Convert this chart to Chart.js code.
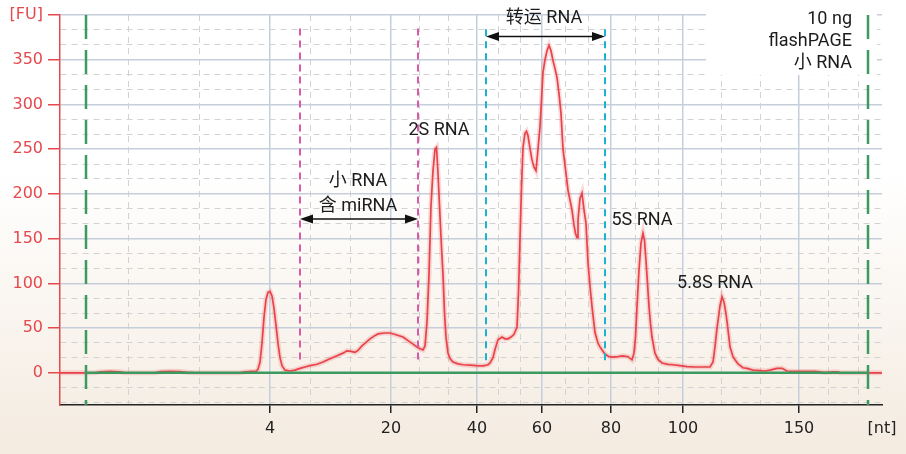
<!DOCTYPE html>
<html>
<head>
<meta charset="utf-8">
<script src="https://cdn.jsdelivr.net/npm/chart.js@4.4.0/dist/chart.umd.min.js"></script>
<style>
  html, body { margin: 0; padding: 0; }
  body {
    width: 906px;
    height: 454px;
    background: linear-gradient(to bottom, #ffffff 0%, #ffffff 38%, #f4ebe0 100%);
  }
  #wrap { position: relative; width: 906px; height: 454px; }
</style>
</head>
<body>
<div id="wrap"><canvas id="electropherogram"></canvas></div>
<script>
// migration time [s] and fluorescence [FU] of the sample trace
const migrationTime = [
  19.00, 19.50, 20.75, 21.00, 21.50, 22.00, 22.25, 23.75, 24.00, 24.50, 25.00, 25.35, 25.75, 28.00, 28.25, 28.60,
  28.80, 28.90, 29.00, 29.10, 29.20, 29.30, 29.40, 29.50, 29.60, 29.70, 29.80, 29.90, 30.00, 30.10, 30.25, 30.50,
  30.75, 31.00, 31.25, 31.50, 31.85, 32.15, 32.50, 32.85, 33.15, 33.35, 33.55, 33.75, 33.90, 34.10, 34.30, 34.50,
  34.70, 34.90, 35.20, 35.50, 35.80, 36.15, 36.40, 36.65, 36.90, 37.15,
  37.25, 37.35, 37.45, 37.55, 37.65, 37.75, 37.825, 37.90, 38.00, 38.075, 38.15, 38.225, 38.30, 38.40, 38.50, 38.65,
  38.90, 39.15, 39.50, 39.80, 40.15,
  40.40, 40.50, 40.65, 40.75, 40.90, 41.10, 41.25, 41.40, 41.55, 41.70, 41.85, 41.925, 42.00, 42.075, 42.15,
  42.25, 42.325, 42.40, 42.50, 42.60, 42.70, 42.80, 42.90, 43.00, 43.075, 43.15, 43.25, 43.35, 43.45, 43.55,
  43.65, 43.75, 43.85, 43.95, 44.05, 44.15, 44.30, 44.40, 44.50, 44.60, 44.70, 44.775, 44.85, 44.90, 45.00,
  45.10, 45.20, 45.30, 45.40, 45.50, 45.60, 45.75, 45.90, 46.00, 46.15, 46.25,
  46.45, 46.65, 46.90, 47.15, 47.40, 47.60, 47.70, 47.775, 47.85, 47.95, 48.05, 48.15, 48.225, 48.30, 48.375,
  48.45, 48.525, 48.60, 48.75, 48.90, 49.10, 49.40, 49.65, 50.00, 50.35, 50.75, 51.15, 51.50,
  51.65, 51.75, 51.85, 51.925, 52.00, 52.10, 52.20, 52.30, 52.375, 52.50, 52.65, 52.75, 52.90, 53.15, 53.35,
  53.65, 54.00, 54.25, 54.50, 54.85, 55.10, 55.35, 55.75, 56.25, 56.75, 57.00, 57.25, 57.65, 57.90, 58.00, 60.10,
];
const fluorescence = [
  0, 0, 0, 1.2, 1.5, 1.2, 0, 0, 1.3, 1.6, 1.4, 0.5, 0, 0, 1.2, 1.5,
  1.5, 4, 12, 33, 62, 82, 90, 91, 86, 72, 53, 33, 17, 8, 3, 2,
  3, 5, 6.5, 8, 9.5, 12, 15.6, 19, 22, 24.5, 24, 23, 25, 30, 34, 38,
  41, 43.5, 44.5, 44.5, 42.5, 40, 36, 32, 28, 25.5,
  30, 57, 110, 187, 226, 250, 252, 223, 175, 140, 110, 67, 40, 22, 16, 12,
  10, 9, 8.5, 8, 7.8,
  9, 11, 17, 26, 37, 40, 38, 38, 40, 43, 51, 90, 150, 207, 252,
  268, 270, 265, 251, 238, 230, 226, 250, 275, 305, 336, 350, 360, 366, 360,
  349, 340, 330, 312, 290, 250, 223, 204, 193, 182, 165, 156, 151, 171, 195,
  201, 182, 167, 123, 97, 74, 45, 33, 29, 24, 21,
  18, 17.5, 18, 19, 18, 14.5, 22, 40, 74, 115, 145, 156, 148, 125, 100,
  74, 55, 40, 22, 15, 11, 9.5, 9, 8, 7, 6.5, 6.5, 6.5,
  12, 29, 50, 62, 75, 85, 79, 66, 53, 29, 18, 14.5, 10, 5.6, 5,
  3, 2.5, 2, 3, 5, 5, 2, 1.5, 1.5, 1.5, 1.2, 0.3, 1, 1, 0, 0,
];

// ladder sizes and the times they run at
const ladderNt = [4, 20, 40, 60, 80, 100, 150];
const ladderTime = [29.5, 35.55, 39.85, 43.1, 46.55, 50.15, 55.95];

// lower / upper marker and the two integration windows
const markerTime = [20.3, 59.4];
const smallRnaWindow = [31.0, 36.9];
const trnaWindow = [40.3, 46.25];

const peakLabels = [
  { text: '小 RNA', t: 33.9, fu: 214 },
  { text: '含 miRNA', t: 33.9, fu: 186 },
  { text: '2S RNA', t: 37.95, fu: 271 },
  { text: '转运 RNA', t: 43.2, fu: 396 },
  { text: '5S RNA', t: 48.1, fu: 170 },
  { text: '5.8S RNA', t: 51.75, fu: 100 },
];
const sampleInfo = ['10 ng', 'flashPAGE', '小 RNA'];

const X_MIN = 19, X_MAX = 60.1;
const Y_MIN = -36, Y_MAX = 400;

const MAJOR_GRID = '#c5cedb';
const MINOR_GRID = '#d2d2d2';
const AXIS_RED = '#e5484d';
const TEXT_FONT = '18px Roboto, "Noto Sans CJK SC", sans-serif';

// x grid: ladder lines plus two dashed lines per interval
function buildXTicks() {
  const edges = [18.85, ...ladderTime, 60.4];
  const ticks = [];
  for (let i = 0; i < edges.length - 1; i++) {
    const a = edges[i], b = edges[i + 1];
    if (i > 0) ticks.push({ value: a, kind: 'major', nt: ladderNt[i - 1] });
    ticks.push({ value: a + (b - a) / 3, kind: 'minor' });
    ticks.push({ value: a + 2 * (b - a) / 3, kind: 'minor' });
  }
  ticks.push({ value: X_MAX, kind: 'end' });
  return ticks.filter((t) => t.value >= X_MIN && t.value <= X_MAX);
}

function buildYTicks() {
  const ticks = [];
  for (let k = -2; k <= 24; k++) {
    ticks.push({ value: (k * 50) / 3, kind: k % 3 === 0 ? 'major' : 'minor' });
  }
  return ticks;
}

const kindOf = (ctx) => (ctx.tick ? ctx.tick.kind : undefined);

function vline(t, top, bottom) {
  return [{ x: t, y: top }, { x: t, y: bottom }];
}

function drawArrow(ctx, x1, x2, yy) {
  const head = 13, half = 4.5;
  ctx.beginPath();
  ctx.moveTo(x1 + head - 1, yy);
  ctx.lineTo(x2 - head + 1, yy);
  ctx.stroke();
  ctx.beginPath();
  ctx.moveTo(x1, yy);
  ctx.lineTo(x1 + head, yy - half);
  ctx.lineTo(x1 + head, yy + half);
  ctx.closePath();
  ctx.fill();
  ctx.beginPath();
  ctx.moveTo(x2, yy);
  ctx.lineTo(x2 - head, yy - half);
  ctx.lineTo(x2 - head, yy + half);
  ctx.closePath();
  ctx.fill();
}

const annotations = {
  id: 'annotations',
  beforeDatasetsDraw(chart) {
    const { ctx, scales: { x, y } } = chart;
    // blank panel behind the sample text
    const l = x.getPixelForValue(51.3);
    const r = x.getPixelForValue(59.85);
    ctx.save();
    ctx.fillStyle = '#ffffff';
    ctx.fillRect(l, 0, r - l, y.getPixelForValue(333));
    ctx.restore();
  },
  afterDatasetsDraw(chart) {
    const { ctx, scales: { x, y } } = chart;
    ctx.save();
    ctx.strokeStyle = '#111';
    ctx.fillStyle = '#111';
    ctx.lineWidth = 1.5;
    drawArrow(ctx, x.getPixelForValue(smallRnaWindow[0]), x.getPixelForValue(smallRnaWindow[1]), y.getPixelForValue(172));
    drawArrow(ctx, x.getPixelForValue(trnaWindow[0]), x.getPixelForValue(trnaWindow[1]), y.getPixelForValue(376));

    ctx.font = TEXT_FONT;
    ctx.fillStyle = '#1c1c1c';
    ctx.textBaseline = 'middle';
    ctx.textAlign = 'center';
    peakLabels.forEach((p) => {
      ctx.fillText(p.text, x.getPixelForValue(p.t), y.getPixelForValue(p.fu));
    });
    ctx.textAlign = 'right';
    const rx = x.getPixelForValue(58.6);
    const ty = y.getPixelForValue(395);
    sampleInfo.forEach((line, i) => ctx.fillText(line, rx, ty + i * 22));
    ctx.restore();
  },
};

const trace = migrationTime.map((t, i) => ({ x: t, y: fluorescence[i] }));

const line = (data, color, width, dash, order) => ({
  data,
  borderColor: color,
  borderWidth: width,
  borderDash: dash,
  pointRadius: 0,
  tension: 0,
  fill: false,
  order,
});

new Chart(document.getElementById('electropherogram'), {
  type: 'line',
  data: {
    datasets: [
      line([{ x: markerTime[0], y: 0 }, { x: markerTime[1], y: 0 }], '#3c9a60', 2.5, [], 0),
      line(vline(markerTime[0], Y_MAX, Y_MIN), '#3c9a60', 2.5, [24, 11], 1),
      line(vline(markerTime[1], Y_MAX, Y_MIN), '#3c9a60', 2.5, [24, 11], 1),
      line(vline(smallRnaWindow[0], 385, 12), '#d95aa6', 2, [7, 5], 1),
      line(vline(smallRnaWindow[1], 385, 12), '#d95aa6', 2, [7, 5], 1),
      line(vline(trnaWindow[0], 384, 12), '#1cb2d2', 2, [7, 5], 1),
      line(vline(trnaWindow[1], 384, 12), '#1cb2d2', 2, [7, 5], 1),
      line(trace, '#e8434a', 1.7, [], 2),
      line(trace, 'rgba(240, 110, 110, 0.25)', 5, [], 3),
    ],
  },
  options: {
    responsive: true,
    maintainAspectRatio: false,
    animation: false,
    events: [],
    layout: { padding: { top: 15, right: 24, left: 0, bottom: 0 } },
    plugins: { legend: { display: false }, tooltip: { enabled: false } },
    scales: {
      x: {
        type: 'linear',
        min: X_MIN,
        max: X_MAX,
        afterBuildTicks: (scale) => { scale.ticks = buildXTicks(); },
        afterFit: (scale) => { scale.height = 49; },
        grid: {
          color: (ctx) => (kindOf(ctx) === 'major' ? MAJOR_GRID : kindOf(ctx) === 'minor' ? MINOR_GRID : 'transparent'),
          lineWidth: (ctx) => (kindOf(ctx) === 'major' ? 1.5 : 1),
          tickLength: 8,
          tickWidth: 1.5,
          tickColor: (ctx) => (kindOf(ctx) === 'major' ? '#222' : 'transparent'),
        },
        border: {
          color: '#222',
          width: 1.5,
          dash: (ctx) => (kindOf(ctx) === 'minor' ? [6, 5] : []),
        },
        ticks: {
          autoSkip: false,
          maxRotation: 0,
          padding: 6,
          color: '#222',
          font: { family: '"DejaVu Sans", sans-serif', size: 16 },
          callback: (value, index, ticks) => {
            const t = ticks[index];
            if (t.kind === 'major') return String(t.nt);
            if (t.kind === 'end') return '[nt]';
            return '';
          },
        },
      },
      y: {
        type: 'linear',
        min: Y_MIN,
        max: Y_MAX,
        afterBuildTicks: (scale) => { scale.ticks = buildYTicks(); },
        afterFit: (scale) => { scale.width = 60; },
        grid: {
          color: (ctx) => (kindOf(ctx) === 'major' ? MAJOR_GRID : MINOR_GRID),
          lineWidth: (ctx) => (kindOf(ctx) === 'major' ? 1.5 : 1),
          tickLength: 12,
          tickWidth: 1.5,
          tickColor: (ctx) => (kindOf(ctx) === 'major' ? AXIS_RED : 'transparent'),
        },
        border: {
          color: AXIS_RED,
          width: 1.5,
          dash: (ctx) => (kindOf(ctx) === 'minor' ? [6, 5] : []),
        },
        ticks: {
          autoSkip: false,
          padding: 5,
          color: AXIS_RED,
          font: { family: '"DejaVu Sans", sans-serif', size: 16 },
          callback: (value, index, ticks) => {
            const t = ticks[index];
            if (t.kind !== 'major') return '';
            return t.value === 400 ? '[FU]' : String(Math.round(t.value));
          },
        },
      },
    },
  },
  plugins: [annotations],
});
</script>
</body>
</html>
